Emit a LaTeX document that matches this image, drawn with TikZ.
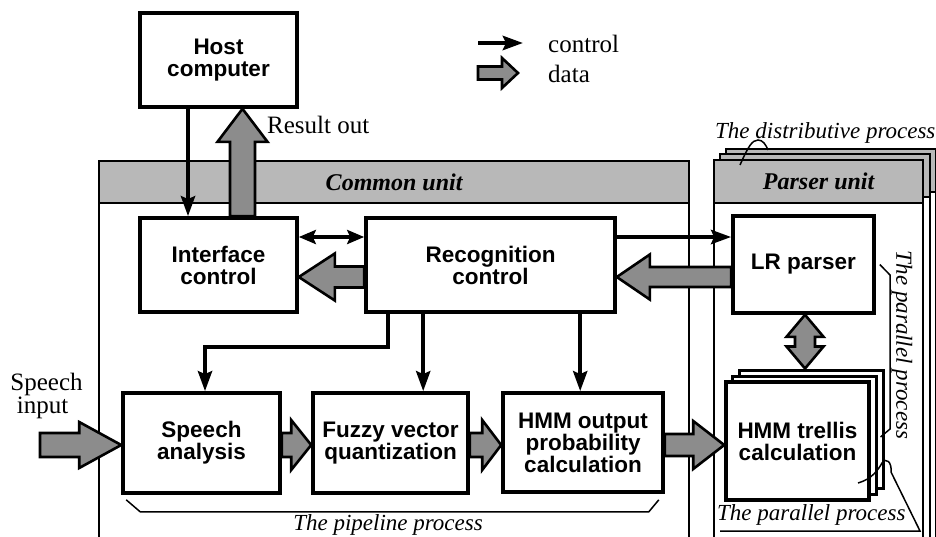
\documentclass[tikz,border=0pt]{standalone}
\usepackage{fontspec}
\setmainfont{Liberation Serif}
\newfontfamily\hvfont{Liberation Sans}
\usetikzlibrary{arrows.meta,calc}

\tikzset{
  box/.style={draw, line width=3.6pt, fill=white, align=center, inner sep=0pt,
    font=\hvfont\bfseries\fontsize{22.5}{22}\selectfont},
  stackbox/.style={draw, line width=3pt, fill=white, inner sep=0pt},
  ctrl/.style={line width=4.2pt, -{Stealth[length=20pt,width=14pt,inset=3pt]}},
  ctrlboth/.style={line width=4.2pt, {Stealth[length=17pt,width=14pt,inset=3pt]}-{Stealth[length=17pt,width=14pt,inset=3pt]}},
  dataarrow/.style={draw, line width=2.6pt, fill=black!45, line join=miter},
  unitbox/.style={draw, line width=2.2pt, fill=white, inner sep=0pt, anchor=north west},
  unithead/.style={draw, line width=2.2pt, fill=black!28, inner sep=0pt, anchor=north west,
    font=\bfseries\itshape\fontsize{24}{24}\selectfont},
  serif/.style={font=\fontsize{25}{23}\selectfont, inner sep=0pt},
  ital/.style={font=\itshape\fontsize{23}{23}\selectfont, inner sep=0pt},
  leader/.style={line width=1.5pt},
}

\newcommand\dataarrow[6][]{%
  \coordinate (daS) at #2;
  \coordinate (daE) at #3;
  \coordinate (daH) at ($(daE)!#6!(daS)$);
  \draw[dataarrow,#1] ($(daS)!#4!90:(daE)$) -- ($(daH)!#4!-90:(daS)$)
    -- ($(daH)!#5!-90:(daS)$) -- (daE) -- ($(daH)!#5!90:(daS)$)
    -- ($(daH)!#4!90:(daS)$) -- ($(daS)!#4!-90:(daE)$) -- cycle;
}
\newcommand\dataarrowboth[6][]{%
  \coordinate (daS) at #2;
  \coordinate (daE) at #3;
  \coordinate (daA) at ($(daS)!#6!(daE)$);
  \coordinate (daB) at ($(daE)!#6!(daS)$);
  \draw[dataarrow,#1] (daS) -- ($(daA)!#5!90:(daE)$) -- ($(daA)!#4!90:(daE)$)
    -- ($(daB)!#4!-90:(daS)$) -- ($(daB)!#5!-90:(daS)$) -- (daE)
    -- ($(daB)!#5!90:(daS)$) -- ($(daB)!#4!90:(daS)$)
    -- ($(daA)!#4!-90:(daE)$) -- ($(daA)!#5!-90:(daE)$) -- cycle;
}

\begin{document}
\begin{tikzpicture}[x=1pt,y=-1pt]
\useasboundingbox (0,0) rectangle (936,536);
\clip (0,0) rectangle (936,536);

% units
\node[unitbox, minimum width=590pt, minimum height=400pt] (common) at (98,160) {};
\node[unithead, minimum width=590pt, minimum height=42pt] (commonhead) at (98,160) {Common unit};

\node[unitbox, minimum width=210pt, minimum height=400pt] (parserC) at (725,148) {};
\node[unithead, minimum width=210pt, minimum height=43pt] (parserheadC) at (725,148) {};
\node[unitbox, minimum width=210pt, minimum height=400pt] (parserB) at (719,153) {};
\node[unithead, minimum width=210pt, minimum height=43pt] (parserheadB) at (719,153) {};
\node[unitbox, minimum width=209pt, minimum height=400pt] (parser) at (713,159) {};
\node[unithead, minimum width=209pt, minimum height=43pt] (parserhead) at (713,159) {Parser unit};

% boxes
\node[box, minimum width=157pt, minimum height=94pt] (host) at (218.5,60) {Host\\computer};
\node[box, minimum width=157pt, minimum height=94pt] (iface) at (218.5,265) {Interface\\control};
\node[box, minimum width=249pt, minimum height=94pt] (recog) at (490.5,265) {Recognition\\control};
\node[box, minimum width=141pt, minimum height=97pt] (lr) at (803.5,264.5) {LR parser};
\node[box, minimum width=157pt, minimum height=100pt] (speech) at (201.5,443) {Speech\\analysis};
\node[box, minimum width=155pt, minimum height=100pt] (fuzzy) at (390.5,443) {Fuzzy vector\\quantization};
\node[box, minimum width=160pt, minimum height=99pt] (hmmout) at (583,442.5) {HMM output\\probability\\calculation};
\node[stackbox, minimum width=144pt, minimum height=118pt] (trellisC) at (811,429) {};
\node[stackbox, minimum width=144pt, minimum height=118pt] (trellisB) at (804,435) {};
\node[box, minimum width=143pt, minimum height=118pt] (trellis) at (797.5,441) {HMM trellis\\calculation};

% control arrows
\draw[ctrl] ($(host.south)+(-30.5,0)$) -- ($(iface.north)+(-30.5,0)$);
\draw[ctrlboth] ($(iface.east)+(0,-28)$) -- ($(recog.west)+(0,-28)$);
\draw[ctrl] ($(recog.east)+(0,-28)$) -- ($(lr.west)+(0,-27.5)$);
\coordinate (r1) at ($(recog.south west)+(24,0)$);
\coordinate (r2) at ($(recog.south west)+(59,0)$);
\coordinate (r3) at ($(recog.south west)+(216,0)$);
\draw[ctrl, line join=miter] (r1) -- ++(0,33) -| ($(speech.north)+(3.5,0)$);
\draw[ctrl] (r2) -- (r2 |- fuzzy.north);
\draw[ctrl] (r3) -- (r3 |- hmmout.north);

% data arrows
\dataarrow{($(iface.north)+(24,0)$)}{($(host.south)+(24,0)$)}{12.5pt}{25pt}{33pt}
\dataarrow{($(recog.west)+(0,12)$)}{($(iface.east)+(0,12)$)}{10.5pt}{23.5pt}{36pt}
\dataarrow{($(lr.west)+(0,12.5)$)}{($(recog.east)+(0,12)$)}{10pt}{22.5pt}{33pt}
\coordinate (spin) at (40,445);
\dataarrow{(spin)}{($(speech.west)+(0,2)$)}{12pt}{23pt}{42pt}
\dataarrow{($(speech.east)+(0,2)$)}{($(fuzzy.west)+(0,2)$)}{12pt}{25pt}{20pt}
\dataarrow{($(fuzzy.east)+(0,2)$)}{($(hmmout.west)+(0,2.5)$)}{12pt}{25pt}{19pt}
\dataarrow{($(hmmout.east)+(0,2.5)$)}{($(trellis.west)+(0,4)$)}{11pt}{24pt}{31pt}
\coordinate (lrb) at ($(lr.south)+(1.5,0)$);
\dataarrowboth{(lrb)}{(lrb |- trellisC.north)}{10pt}{18.5pt}{22pt}

% legend
\coordinate (lega) at (478,43);
\coordinate (legb) at (523,43);
\draw[ctrl] (lega) -- (legb);
\node[serif, anchor=base west] (legctrl) at (548,52) {control};
\coordinate (legc) at (478,73);
\coordinate (legd) at (518,73);
\dataarrow{(legc)}{(legd)}{6.5pt}{15pt}{16pt}
\node[serif, anchor=base west] (legdata) at (548,82) {data};

% labels
\node[serif, anchor=base west] (resout) at (267,133) {Result out};
\node[serif, anchor=base] (spA) at (46.5,390) {Speech};
\node[serif, anchor=base] (spB) at (42.5,413) {input};

\node[ital, anchor=base] (pipe) at (388,530) {The pipeline process};
\draw[leader] ($(speech.south west)+(5,5)$) -- ($(speech.south west)+(19,17)$) -- ($(hmmout.south east)+(-16,18)$) -- ($(hmmout.south east)+(-6,6)$);

\node[ital, anchor=base west] (distr) at (715,138) {The distributive process};
\draw[leader] (740,165) .. controls (748,147) and (752,140) .. (758,140) .. controls (763,140) and (766,145) .. (768,150);

\node[ital, rotate=-90] (parv) at (902,345) {The parallel process};
\draw[leader] ($(lr.east)+(4,0)$) -- (890,275) -- (890,429) -- ($(trellisC.east)+(-4,8)$);

\node[ital, anchor=base west] (parh) at (717,520) {The parallel process};
\draw[leader] (858,483) .. controls (872,479) and (878,470) .. (882,463) .. controls (886,457) and (892,462) .. (891,472) -- (920,531) -- (720,531);
\end{tikzpicture}
\end{document}
